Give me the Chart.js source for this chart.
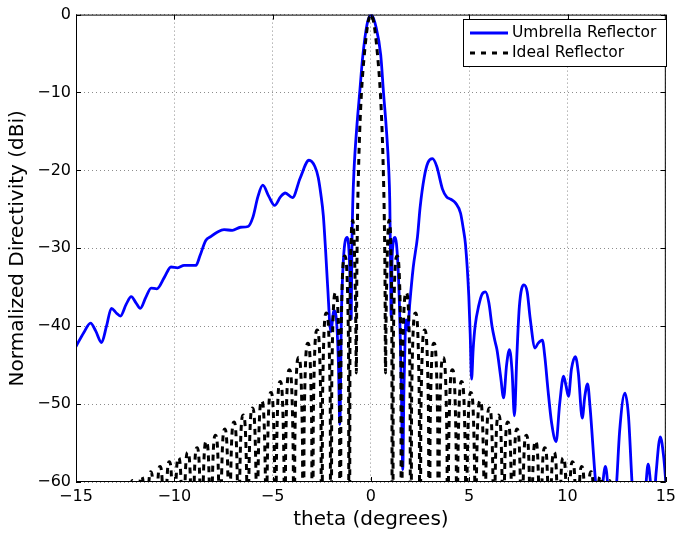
<!DOCTYPE html>
<html>
<head>
<meta charset="utf-8">
<title>Normalized Directivity</title>
<script src="https://cdn.jsdelivr.net/npm/chart.js@4.4.0/dist/chart.umd.min.js"></script>
<style>
  html, body { margin: 0; padding: 0; background: #fff; }
  canvas { display: block; }
</style>
</head>
<body>
<canvas id="pattern" width="681" height="537"></canvas>
<script>
// Umbrella reflector pattern (theta in degrees, directivity in dB)
const umbrellaTheta = [
    -15.0, -14.6, -14.26, -14.0, -13.7, -13.45, -13.2, -12.95, -12.74, -12.45,
    -12.19, -11.95, -11.73, -11.45, -11.18, -10.89, -10.5, -10.17, -9.83, -9.5,
    -8.9, -8.7, -8.4, -8.15, -7.8, -7.47, -7.05, -6.63, -6.25, -6.0,
    -5.75, -5.5, -5.2, -4.9, -4.6, -4.36, -3.99, -3.6, -3.15, -2.85,
    -2.68, -2.55, -2.42, -2.3, -2.2, -2.04, -1.88, -1.75, -1.65, -1.58,
    -1.5, -1.4, -1.21, -1.1, -1.0, -0.97, -0.92, -0.86, -0.72, -0.57,
    -0.42, -0.2, 0.02, 0.25, 0.5, 0.64, 0.78, 0.91, 0.96, 0.99,
    1.03, 1.08, 1.23, 1.36, 1.46, 1.55, 1.62, 1.68, 1.75, 1.8,
    1.87, 1.98, 2.15, 2.37, 2.5, 2.71, 2.9, 3.13, 3.35, 3.64,
    3.85, 4.06, 4.31, 4.56, 4.7, 4.81, 4.98, 5.05, 5.12, 5.2,
    5.3, 5.49, 5.65, 5.83, 6.0, 6.16, 6.3, 6.41, 6.6, 6.75,
    6.9, 7.05, 7.18, 7.3, 7.42, 7.55, 7.78, 7.95, 8.1, 8.35,
    8.5, 8.72, 8.85, 9.0, 9.19, 9.42, 9.6, 9.8, 9.92, 10.05,
    10.2, 10.4, 10.55, 10.75, 10.88, 11.02, 11.15, 11.38, 11.5, 11.65,
    11.8, 11.93, 12.05, 12.2, 12.4, 12.5, 12.65, 12.92, 13.1, 13.28,
    13.5, 13.85, 14.0, 14.1, 14.2, 14.35, 14.5, 14.72, 14.9, 15.0
];
const umbrellaDb = [
    -42.6, -40.8, -39.6, -40.6, -42.1, -40.0, -37.7, -38.3, -38.7, -37.2,
    -36.2, -37.0, -37.7, -36.3, -35.1, -35.2, -33.7, -32.4, -32.5, -32.2,
    -32.2, -31.0, -29.0, -28.5, -27.9, -27.6, -27.7, -27.3, -27.2, -26.0,
    -23.4, -21.9, -23.3, -24.5, -23.4, -22.9, -23.5, -21.0, -18.7, -19.5,
    -20.9, -23.0, -25.8, -30.5, -34.9, -40.7, -38.0, -39.3, -45.0, -52.6,
    -38.5, -31.5, -28.6, -31.0, -39.0, -30.5, -24.0, -20.0, -14.5, -10.0,
    -5.5, -1.3, 0.0, -1.5, -5.2, -10.0, -14.5, -20.0, -24.0, -30.0,
    -38.8, -31.0, -28.6, -31.5, -38.0, -48.0, -58.4, -48.0, -40.5, -39.2,
    -40.5, -37.0, -32.5, -28.5, -24.8, -20.9, -19.0, -18.5, -19.5, -22.4,
    -23.4, -23.7, -24.2, -25.5, -27.5, -29.5, -36.2, -41.0, -46.8, -43.0,
    -40.0, -37.3, -35.9, -35.6, -37.0, -40.0, -41.8, -43.0, -46.5, -49.2,
    -45.0, -43.0, -45.8, -51.5, -44.0, -37.5, -34.7, -35.6, -39.0, -42.8,
    -42.2, -41.8, -44.0, -48.0, -52.4, -54.8, -50.0, -46.4, -47.6, -49.0,
    -45.5, -43.9, -46.0, -51.8, -49.0, -47.4, -50.5, -58.5, -62.0, -64.0,
    -60.0, -58.0, -60.5, -67.0, -63.0, -60.0, -53.5, -48.6, -51.5, -60.0,
    -68.0, -66.0, -60.0, -57.7, -59.5, -64.0, -59.0, -54.2, -57.0, -60.0
];

// Ideal reflector pattern: nulls, lobe shoulders and lobe peaks
const idealTheta = [
    -12.37, -12.33, -12.135, -11.94, -11.90, -11.86, -11.665, -11.47,
    -11.43, -11.39, -11.195, -11.00, -10.96, -10.92, -10.725, -10.53,
    -10.49, -10.45, -10.255, -10.06, -10.02, -9.98, -9.785, -9.59,
    -9.55, -9.51, -9.315, -9.12, -9.08, -9.04, -8.845, -8.65,
    -8.61, -8.57, -8.375, -8.18, -8.14, -8.10, -7.905, -7.71,
    -7.67, -7.63, -7.435, -7.24, -7.20, -7.16, -6.965, -6.77,
    -6.73, -6.69, -6.495, -6.30, -6.26, -6.22, -6.025, -5.83,
    -5.79, -5.75, -5.555, -5.36, -5.32, -5.28, -5.085, -4.89,
    -4.85, -4.81, -4.615, -4.42, -4.38, -4.34, -4.145, -3.95,
    -3.91, -3.87, -3.675, -3.48, -3.44, -3.40, -3.205, -3.01,
    -2.97, -2.93, -2.735, -2.54, -2.50, -2.46, -2.265, -2.07,
    -2.03, -1.99, -1.795, -1.60, -1.56, -1.52, -1.33, -1.14,
    -1.10, -1.06, -0.92, -0.78, -0.74, -0.72, -0.68, -0.63,
    -0.57, -0.48, -0.33, -0.15, 0.0, 0.15, 0.33, 0.48,
    0.57, 0.63, 0.68, 0.72, 0.74, 0.78, 0.92, 1.06,
    1.10, 1.14, 1.33, 1.52, 1.56, 1.60, 1.795, 1.99,
    2.03, 2.07, 2.265, 2.46, 2.50, 2.54, 2.735, 2.93,
    2.97, 3.01, 3.205, 3.40, 3.44, 3.48, 3.675, 3.87,
    3.91, 3.95, 4.145, 4.34, 4.38, 4.42, 4.615, 4.81,
    4.85, 4.89, 5.085, 5.28, 5.32, 5.36, 5.555, 5.75,
    5.79, 5.83, 6.025, 6.22, 6.26, 6.30, 6.495, 6.69,
    6.73, 6.77, 6.965, 7.16, 7.20, 7.24, 7.435, 7.63,
    7.67, 7.71, 7.905, 8.10, 8.14, 8.18, 8.375, 8.57,
    8.61, 8.65, 8.845, 9.04, 9.08, 9.12, 9.315, 9.51,
    9.55, 9.59, 9.785, 9.98, 10.02, 10.06, 10.255, 10.45,
    10.49, 10.53, 10.725, 10.92, 10.96, 11.00, 11.195, 11.39,
    11.43, 11.47, 11.665, 11.86, 11.90, 11.94, 12.135, 12.33,
    12.37
];
const idealDb = [
    -100, -70.8, -59.8, -70.8, -100, -70.3, -59.3, -70.3,
    -100, -69.7, -58.7, -69.7, -100, -69.0, -58.0, -69.0,
    -100, -68.4, -57.4, -68.4, -100, -67.9, -56.9, -67.9,
    -100, -67.2, -56.2, -67.2, -100, -66.6, -55.6, -66.6,
    -100, -65.8, -54.8, -65.8, -100, -65.0, -54.0, -65.0,
    -100, -64.2, -53.2, -64.2, -100, -63.3, -52.3, -63.3,
    -100, -62.4, -51.4, -62.4, -100, -61.5, -50.5, -61.5,
    -100, -60.6, -49.6, -60.6, -100, -59.5, -48.5, -59.5,
    -100, -58.1, -47.1, -58.1, -100, -56.6, -45.6, -56.6,
    -100, -55.0, -44.0, -55.0, -100, -53.2, -42.2, -53.2,
    -100, -51.5, -40.5, -51.5, -100, -49.3, -38.3, -49.3,
    -100, -46.7, -35.7, -46.7, -100, -42.0, -31.0, -42.0,
    -100, -37.4, -26.4, -37.4, -46.0, -35.0, -26.0, -20.0,
    -15.0, -10.0, -5.0, -1.1, 0.0, -1.1, -5.0, -10.0,
    -15.0, -20.0, -26.0, -35.0, -46.0, -37.4, -26.4, -37.4,
    -100, -42.0, -31.0, -42.0, -100, -46.7, -35.7, -46.7,
    -100, -49.3, -38.3, -49.3, -100, -51.5, -40.5, -51.5,
    -100, -53.2, -42.2, -53.2, -100, -55.0, -44.0, -55.0,
    -100, -56.6, -45.6, -56.6, -100, -58.1, -47.1, -58.1,
    -100, -59.5, -48.5, -59.5, -100, -60.6, -49.6, -60.6,
    -100, -61.5, -50.5, -61.5, -100, -62.4, -51.4, -62.4,
    -100, -63.3, -52.3, -63.3, -100, -64.2, -53.2, -64.2,
    -100, -65.0, -54.0, -65.0, -100, -65.8, -54.8, -65.8,
    -100, -66.6, -55.6, -66.6, -100, -67.2, -56.2, -67.2,
    -100, -67.9, -56.9, -67.9, -100, -68.4, -57.4, -68.4,
    -100, -69.0, -58.0, -69.0, -100, -69.7, -58.7, -69.7,
    -100, -70.3, -59.3, -70.3, -100, -70.8, -59.8, -70.8,
    -100
];

const thetaTicks = [-15, -10, -5, 0, 5, 10, 15];
const dbTicks = [-60, -50, -40, -30, -20, -10, 0];
const seriesNames = ['Umbrella Reflector', 'Ideal Reflector'];

const FONT = '"DejaVu Sans", Verdana, sans-serif';

function toPoints(xs, ys) {
    return xs.map((x, i) => ({ x: x, y: ys[i] }));
}

function minusSign(v) {
    return String(v).replace('-', '\u2212');
}

// frame, inward tick marks and the legend box
const axesFrame = {
    id: 'axesFrame',
    afterDatasetsDraw(chart) {
        const { ctx, chartArea: a, scales } = chart;
        ctx.save();
        ctx.strokeStyle = '#000';
        ctx.lineWidth = 1;
        ctx.beginPath();
        thetaTicks.forEach(v => {
            const px = Math.round(scales.x.getPixelForValue(v)) + 0.5;
            ctx.moveTo(px, a.bottom); ctx.lineTo(px, a.bottom - 5);
            ctx.moveTo(px, a.top); ctx.lineTo(px, a.top + 5);
        });
        dbTicks.forEach(v => {
            const py = Math.round(scales.y.getPixelForValue(v)) + 0.5;
            ctx.moveTo(a.left, py); ctx.lineTo(a.left + 5, py);
            ctx.moveTo(a.right, py); ctx.lineTo(a.right - 5, py);
        });
        ctx.stroke();
        ctx.strokeRect(a.left + 0.5, a.top + 0.5, a.right - a.left - 1, a.bottom - a.top - 1);

        // legend
        const lx = 463, ly = 19, lw = 203, lh = 47;
        ctx.fillStyle = '#fff';
        ctx.fillRect(lx, ly, lw, lh);
        ctx.strokeRect(lx + 0.5, ly + 0.5, lw, lh);

        ctx.lineWidth = 2.8;
        ctx.strokeStyle = '#0000ff';
        ctx.beginPath();
        ctx.moveTo(470, 33); ctx.lineTo(508, 33);
        ctx.stroke();

        ctx.strokeStyle = '#000';
        ctx.lineWidth = 3;
        ctx.setLineDash([5, 6]);
        ctx.beginPath();
        ctx.moveTo(470, 53); ctx.lineTo(508, 53);
        ctx.stroke();
        ctx.setLineDash([]);

        ctx.fillStyle = '#000';
        ctx.font = '15.5px ' + FONT;
        ctx.textBaseline = 'middle';
        ctx.fillText(seriesNames[0], 512, 33);
        ctx.fillText(seriesNames[1], 512, 53);
        ctx.restore();
    }
};

new Chart(document.getElementById('pattern'), {
    type: 'line',
    data: {
        datasets: [
            {
                label: seriesNames[0],
                data: toPoints(umbrellaTheta, umbrellaDb),
                borderColor: '#0000ff',
                borderWidth: 2.8,
                pointRadius: 0,
                cubicInterpolationMode: 'monotone',
                order: 1
            },
            {
                label: seriesNames[1],
                data: toPoints(idealTheta, idealDb),
                borderColor: '#000000',
                borderWidth: 3,
                borderDash: [6, 5],
                pointRadius: 0,
                cubicInterpolationMode: 'monotone',
                order: 0
            }
        ]
    },
    options: {
        responsive: false,
        animation: false,
        devicePixelRatio: 1,
        layout: { padding: { top: 13, right: 11, left: 0, bottom: 0 } },
        plugins: {
            legend: { display: false },
            tooltip: { enabled: false }
        },
        scales: {
            x: {
                type: 'linear',
                min: -15,
                max: 15,
                afterBuildTicks: s => { s.ticks = thetaTicks.map(v => ({ value: v })); },
                afterFit: s => { s.height = 55; },
                ticks: {
                    color: '#000',
                    padding: 5,
                    maxRotation: 0,
                    font: { family: FONT, size: 16 },
                    callback: v => minusSign(v)
                },
                grid: { color: '#8c8c8c', drawTicks: false },
                border: { display: false, dash: [1, 3] },
                title: {
                    display: true,
                    text: 'theta (degrees)',
                    color: '#000',
                    font: { family: FONT, size: 20 },
                    padding: { top: 0, bottom: 5 }
                }
            },
            y: {
                type: 'linear',
                min: -60,
                max: 0,
                afterBuildTicks: s => { s.ticks = dbTicks.map(v => ({ value: v })); },
                afterFit: s => { s.width = 76; },
                ticks: {
                    color: '#000',
                    padding: 5,
                    font: { family: FONT, size: 16 },
                    callback: v => minusSign(v)
                },
                grid: { color: '#8c8c8c', drawTicks: false },
                border: { display: false, dash: [1, 3] },
                title: {
                    display: true,
                    text: 'Normalized Directivity (dBi)',
                    color: '#000',
                    font: { family: FONT, size: 20 },
                    padding: { top: 6, bottom: 0 }
                }
            }
        }
    },
    plugins: [axesFrame]
});
</script>
</body>
</html>
